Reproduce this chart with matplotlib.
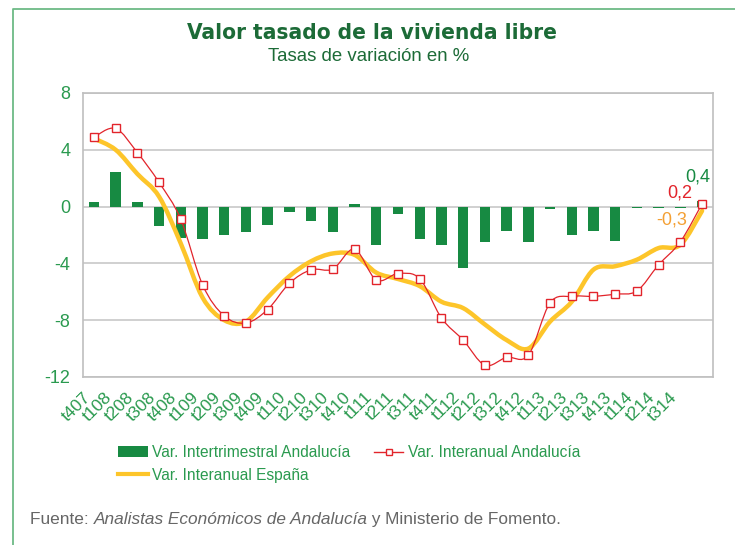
import numpy as np
import matplotlib.pyplot as plt
from matplotlib.path import Path
from matplotlib.patches import PathPatch, Patch
from matplotlib.lines import Line2D
from matplotlib import font_manager
import matplotlib.transforms as mtransforms

# Quarter labels (last quarter, t414, has no label on the axis)
quarters = ['t407', 't108', 't208', 't308', 't408', 't109', 't209', 't309', 't409',
            't110', 't210', 't310', 't410', 't111', 't211', 't311', 't411',
            't112', 't212', 't312', 't412', 't113', 't213', 't313', 't413',
            't114', 't214', 't314', '']

# Var. Intertrimestral Andalucia (bars)
inter_trim = [0.3, 2.4, 0.3, -1.4, -2.2, -2.3, -2.0, -1.8, -1.3,
              -0.35, -1.05, -1.8, 0.2, -2.7, -0.5, -2.25, -2.7,
              -4.3, -2.5, -1.7, -2.5, -0.2, -2.0, -1.7, -2.4,
              -0.1, -0.1, -0.1, 0.4]

# Var. Interanual Andalucia (red line)
inter_and = [4.9, 5.5, 3.8, 1.7, -0.9, -5.5, -7.7, -8.2, -7.25,
             -5.4, -4.45, -4.4, -3.0, -5.17, -4.72, -5.08, -7.85,
             -9.4, -11.17, -10.62, -10.47, -6.78, -6.32, -6.32, -6.17,
             -5.94, -4.1, -2.48, 0.2]

# Var. Interanual Espana (yellow line)
inter_esp = [4.8, 4.0, 2.3, 0.7, -2.6, -6.4, -8.0, -8.1, -6.4,
             -4.9, -3.85, -3.3, -3.4, -4.65, -5.1, -5.6, -6.7,
             -7.15, -8.3, -9.4, -10.0, -8.1, -6.7, -4.44, -4.2,
             -3.74, -2.92, -2.69, -0.3]

green_bar = '#178a42'
green_txt = '#2a9a4f'
green_title = '#1c6b37'
red = '#e2242b'
yellow = '#fdc52a'
orange = '#f4a034'

plt.rcParams['font.family'] = ['Liberation Sans', 'DejaVu Sans']
plt.rcParams['axes.unicode_minus'] = False

# look for a bold condensed face for the title
title_prop = None
for f in font_manager.fontManager.ttflist:
    nm = (f.name + ' ' + str(f.stretch)).lower()
    w = f.weight if isinstance(f.weight, int) else 700 if 'bold' in str(f.weight) else 400
    if ('condens' in nm or 'narrow' in nm) and w >= 700 and f.style == 'normal':
        title_prop = font_manager.FontProperties(fname=f.fname, size=16.2)
        break
if title_prop is None:
    title_prop = font_manager.FontProperties(family='DejaVu Sans', weight='bold', size=14.5)


def smooth_path(xs, ys):
    # Excel-like smoothed line: cubic bezier through every point
    pts = np.column_stack([xs, ys]).astype(float)
    verts = [pts[0]]
    codes = [Path.MOVETO]
    n = len(pts)
    for i in range(n - 1):
        p0 = pts[i - 1] if i > 0 else pts[i]
        p1 = pts[i]
        p2 = pts[i + 1]
        p3 = pts[i + 2] if i + 2 < n else pts[i + 1]
        c1 = p1 + (p2 - p0) / 6.0
        c2 = p2 - (p3 - p1) / 6.0
        verts += [c1, c2, p2]
        codes += [Path.CURVE4] * 3
    return Path(verts, codes)


fig = plt.figure(figsize=(7.35, 5.45), dpi=100)
ax = fig.add_axes([0.113, 0.3083, 0.857, 0.5211])

x = np.arange(len(quarters))

ax.bar(x, inter_trim, width=0.48, color=green_bar, zorder=2)

ax.add_patch(PathPatch(smooth_path(x, inter_esp), facecolor='none', edgecolor=yellow,
                       lw=3.2, capstyle='round', zorder=3))
ax.add_patch(PathPatch(smooth_path(x, inter_and), facecolor='none', edgecolor=red,
                       lw=0.9, zorder=4))
ax.plot(x, inter_and, ls='none', marker='s', ms=5.3, mfc='white', mec=red, mew=1.0, zorder=5)

ax.set_xlim(-0.5, len(quarters) - 0.5)
ax.set_ylim(-12, 8)
ax.set_yticks(np.arange(-12, 9, 4))
ax.yaxis.grid(True, color='#c8c8c8', lw=1.2, zorder=0)
ax.set_axisbelow(True)
for s in ax.spines.values():
    s.set_color('#bfbfbf')
    s.set_linewidth(1.2)
ax.tick_params(axis='both', length=0, colors=green_txt, labelsize=13)
ax.tick_params(axis='y', pad=9)

ax.set_xticks(x)
ax.set_xticklabels(quarters, rotation=45, ha='right', va='center',
                   rotation_mode='anchor', fontsize=12.5)
ax.tick_params(axis='x', pad=13)
shift = mtransforms.ScaledTranslation(-6 / 100, 0, fig.dpi_scale_trans)
for lab in ax.get_xticklabels():
    lab.set_transform(lab.get_transform() + shift)

# labels of the last quarter
last = len(quarters) - 1
ax.annotate('0,4', xy=(last, inter_trim[-1]), xytext=(-3, 17), textcoords='offset points',
            ha='center', va='center', color=green_bar, fontsize=13)
ax.annotate('0,2', xy=(last, inter_and[-1]), xytext=(-16, 8), textcoords='offset points',
            ha='center', va='center', color=red, fontsize=13)
ax.annotate('-0,3', xy=(last, inter_esp[-1]), xytext=(-22, -6.5), textcoords='offset points',
            ha='center', va='center', color=orange, fontsize=13)

# titles
fig.text(372 / 735, 1 - 39 / 545, 'Valor tasado de la vivienda libre', ha='center', va='baseline',
         fontproperties=title_prop, color=green_title)
fig.text(369 / 735, 1 - 61 / 545, 'Tasas de variación en %', ha='center', va='baseline',
         fontsize=13.4, color=green_title)

# legend
handles = [Patch(facecolor=green_bar, edgecolor='none'),
           Line2D([], [], color=yellow, lw=3),
           Line2D([], [], color=red, lw=1, marker='s', ms=4.5, mfc='white', mec=red)]
labels = ['Var. Intertrimestral Andalucía', 'Var. Interanual España', 'Var. Interanual Andalucía']
fig.legend(handles, labels, ncol=2, frameon=False, loc='upper left',
           bbox_to_anchor=(118 / 735, 1 - 445 / 545), fontsize=11.2, labelcolor=green_txt,
           handlelength=1.9, handletextpad=0.3, columnspacing=1.5, labelspacing=0.5,
           borderpad=0, borderaxespad=0)

# source line
t1 = fig.text(30 / 735, 1 - 527 / 545, 'Fuente: ', fontsize=12.4, color='#666666', va='bottom')
t2 = ax.annotate('Analistas Económicos de Andalucía', xy=(1, 0), xycoords=t1, va='bottom',
                 fontsize=12.4, color='#666666', style='italic', annotation_clip=False)
ax.annotate(' y Ministerio de Fomento.', xy=(1, 0), xycoords=t2, va='bottom',
            fontsize=12.4, color='#666666', annotation_clip=False)

# page border (left and top)
fig.add_artist(Line2D([13 / 735, 13 / 735, 1.0], [0.0, 1 - 9 / 545, 1 - 9 / 545],
                      transform=fig.transFigure, color='#6dba86', lw=1.3))

fig.savefig('out.png', dpi=100)
